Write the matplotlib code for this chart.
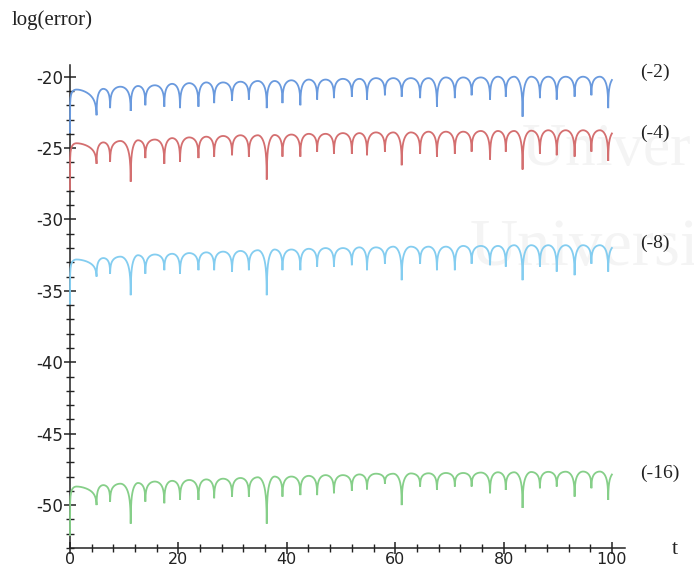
import numpy as np
import matplotlib
matplotlib.use("Agg")
import matplotlib.pyplot as plt

# ---- data ----
dip_t = [4.9, 7.4, 11.2, 13.9, 17.4, 20.3, 23.7, 26.6, 29.9, 33.0, 36.3, 39.2,
         42.5, 45.6, 48.7, 52.0, 54.8, 58.1, 61.2, 64.6, 67.7, 71.0, 74.1, 77.5,
         80.4, 83.5, 86.7, 89.8, 93.1, 96.2, 99.3]

labels = ["(-2)", "(-4)", "(-8)", "(-16)"]

start_blue, start_red, start_cyan, start_green = -23.9, -27.9, -35.9, -52.1

dips_blue = [-22.7, -22.2, -22.4, -22.0, -22.1, -22.2, -22.1, -21.85, -21.7, -21.6, -22.2, -21.85,
             -22.0, -21.6, -21.5, -21.4, -21.6, -21.3, -21.4, -21.5, -22.1, -21.5, -21.3, -21.6,
             -21.4, -22.8, -21.5, -21.6, -21.4, -21.3, -22.2]
dips_red = [-26.1, -25.95, -27.35, -25.7, -26.1, -25.95, -25.7, -25.6, -25.5, -25.6, -27.2, -25.6,
            -25.6, -25.25, -25.4, -25.4, -25.5, -25.25, -26.2, -25.4, -25.6, -25.4, -25.25, -25.8,
            -25.25, -26.5, -25.4, -25.5, -25.6, -25.25, -25.9]
dips_cyan = [-34.0, -33.8, -35.3, -33.8, -33.55, -33.8, -33.55, -33.55, -33.65, -33.55, -35.3, -33.55,
             -33.55, -33.3, -33.3, -33.2, -33.55, -33.1, -34.25, -33.1, -33.55, -33.55, -33.1, -33.2,
             -33.3, -34.25, -33.3, -33.65, -33.9, -33.1, -33.65]
dips_green = [-50.0, -49.76, -51.3, -49.76, -49.87, -49.64, -49.64, -49.52, -49.41, -49.41, -51.3, -49.41,
              -49.3, -49.3, -49.17, -49.0, -48.9, -48.5, -50.0, -48.7, -48.94, -48.7, -48.7, -49.17,
              -48.94, -50.2, -48.82, -48.7, -49.41, -48.82, -49.64]

crest_blue = [-20.9, -20.85, -20.7, -20.65, -20.6, -20.5, -20.45, -20.4, -20.4, -20.35, -20.3, -20.3,
              -20.25, -20.2, -20.2, -20.15, -20.15, -20.1, -20.1, -20.1, -20.1, -20.05, -20.05, -20.05,
              -20.0, -20.0, -20.0, -20.0, -20.0, -20.0, -20.0, -20.0]
crest_red = [-24.66, -24.6, -24.5, -24.45, -24.4, -24.3, -24.25, -24.2, -24.15, -24.1, -24.1, -24.08,
             -24.05, -24.0, -24.0, -23.95, -23.95, -23.9, -23.9, -23.9, -23.85, -23.85, -23.85, -23.8,
             -23.8, -23.8, -23.78, -23.75, -23.75, -23.75, -23.75, -23.75]
crest_cyan = [-32.8, -32.7, -32.6, -32.5, -32.45, -32.4, -32.35, -32.3, -32.25, -32.2, -32.15, -32.1,
              -32.1, -32.05, -32.0, -32.0, -31.95, -31.95, -31.9, -31.9, -31.9, -31.9, -31.85, -31.85,
              -31.85, -31.8, -31.8, -31.8, -31.8, -31.8, -31.8, -31.8]
crest_green = [-48.7, -48.6, -48.5, -48.45, -48.35, -48.3, -48.24, -48.2, -48.15, -48.1, -48.05, -48.0,
               -48.0, -47.95, -47.9, -47.9, -47.85, -47.8, -47.8, -47.78, -47.77, -47.75, -47.75, -47.72,
               -47.7, -47.7, -47.68, -47.67, -47.66, -47.65, -47.65, -47.65]

colors = ["#6a9ade", "#d46f70", "#84cdf0", "#86cf89"]
label_y_px = [72, 133, 243, 473]


def build(start, dips, crests, t_end=100.0):
    ends_t = [0.0] + dip_t + [dip_t[-1] + (dip_t[-1] - dip_t[-2])]
    ends_v = [start] + dips + [dips[-1]]
    eps = 0.015
    base = np.log(eps) - np.log(1 + eps)
    T, Y = [], []
    for i in range(len(ends_t) - 1):
        a, b = ends_t[i], ends_t[i + 1]
        u = np.linspace(0, 1, 160)
        if i == 0:
            u = u ** 0.5  # fast rise right after t = 0
        s = np.sin(np.pi * u)
        c = crests[i]
        kl = (ends_v[i] - c) / base
        kr = (ends_v[i + 1] - c) / base
        k = np.where(u < 0.5, kl, kr)
        y = c + (np.log(s + eps) - np.log(1 + eps)) * k
        t = a + (b - a) * np.linspace(0, 1, 160)
        T.append(t)
        Y.append(y)
    T = np.concatenate(T)
    Y = np.concatenate(Y)
    m = T <= t_end
    return T[m], Y[m]


W, H = 694, 570
fig = plt.figure(figsize=(W / 100, H / 100), dpi=100)

x0_px, x100_px = 70, 612
xr_px = 625
ppu_x = (x100_px - x0_px) / 100
xmax = (xr_px - x0_px) / ppu_x
y_bot_px, y_top_px = 548, 65
ppu_y = 14.28
ym20_px = 76.7
ymin = -20 - (y_bot_px - ym20_px) / ppu_y
ymax = -20 + (ym20_px - y_top_px) / ppu_y

# faint scan watermark (behind everything)
fig.text(522 / W, 1 - 150 / H, "Univer", fontsize=44, family="Liberation Serif",
         color="#f4f4f4", zorder=-5, va="center")
fig.text(470 / W, 1 - 248 / H, "Universi", fontsize=48, family="Liberation Serif",
         color="#f4f4f4", zorder=-5, va="center")

ax = fig.add_axes([x0_px / W, (H - y_bot_px) / H, (xr_px - x0_px) / W, (y_bot_px - y_top_px) / H])
ax.set_xlim(0, xmax)
ax.set_ylim(ymin, ymax)

series = [(start_blue, dips_blue, crest_blue), (start_red, dips_red, crest_red),
          (start_cyan, dips_cyan, crest_cyan), (start_green, dips_green, crest_green)]
for (st, dp, cr), col, lab, ly in zip(series, colors, labels, label_y_px):
    t, y = build(st, dp, cr)
    ax.plot(t, y, color=col, lw=1.3, solid_joinstyle="miter", clip_on=False, zorder=3)
    fig.text(640 / W, 1 - ly / H, lab, fontsize=14, family="Liberation Serif",
             color="#222222", va="center", ha="left")

for s in ["top", "right"]:
    ax.spines[s].set_visible(False)
ax.spines["left"].set_position(("data", 0))
ax.spines["bottom"].set_position(("data", ymin))
for s in ["left", "bottom"]:
    ax.spines[s].set_color("#222222")
    ax.spines[s].set_linewidth(1.1)
    ax.spines[s].set_zorder(2)

ax.set_xticks([0, 20, 40, 60, 80, 100])
ax.set_xticks(np.arange(0, 101, 4), minor=True)
ax.set_yticks([-50, -45, -40, -35, -30, -25, -20])
ax.set_yticks(np.arange(-53, -19, 1), minor=True)
ax.tick_params(axis="both", which="major", direction="inout", length=8, width=1.1,
               colors="#222222", labelsize=12)
ax.tick_params(axis="both", which="minor", direction="inout", length=6, width=1.0,
               colors="#222222")
ax.tick_params(axis="y", pad=1)
ax.tick_params(axis="x", labelsize=11.5, pad=-1)
ax.set_yticklabels(["-50", "-45", "-40", "-35", "-30", "-25", "-20"])
ax.patch.set_alpha(0)

fig.text(12 / W, 1 - 20 / H, "log(error)", fontsize=15, family="Liberation Serif",
         color="#222222", va="center", ha="left")
fig.text(672 / W, 1 - 550 / H, "t", fontsize=16, family="Liberation Serif",
         color="#222222", va="center", ha="left")

fig.savefig("out.png", dpi=100)
